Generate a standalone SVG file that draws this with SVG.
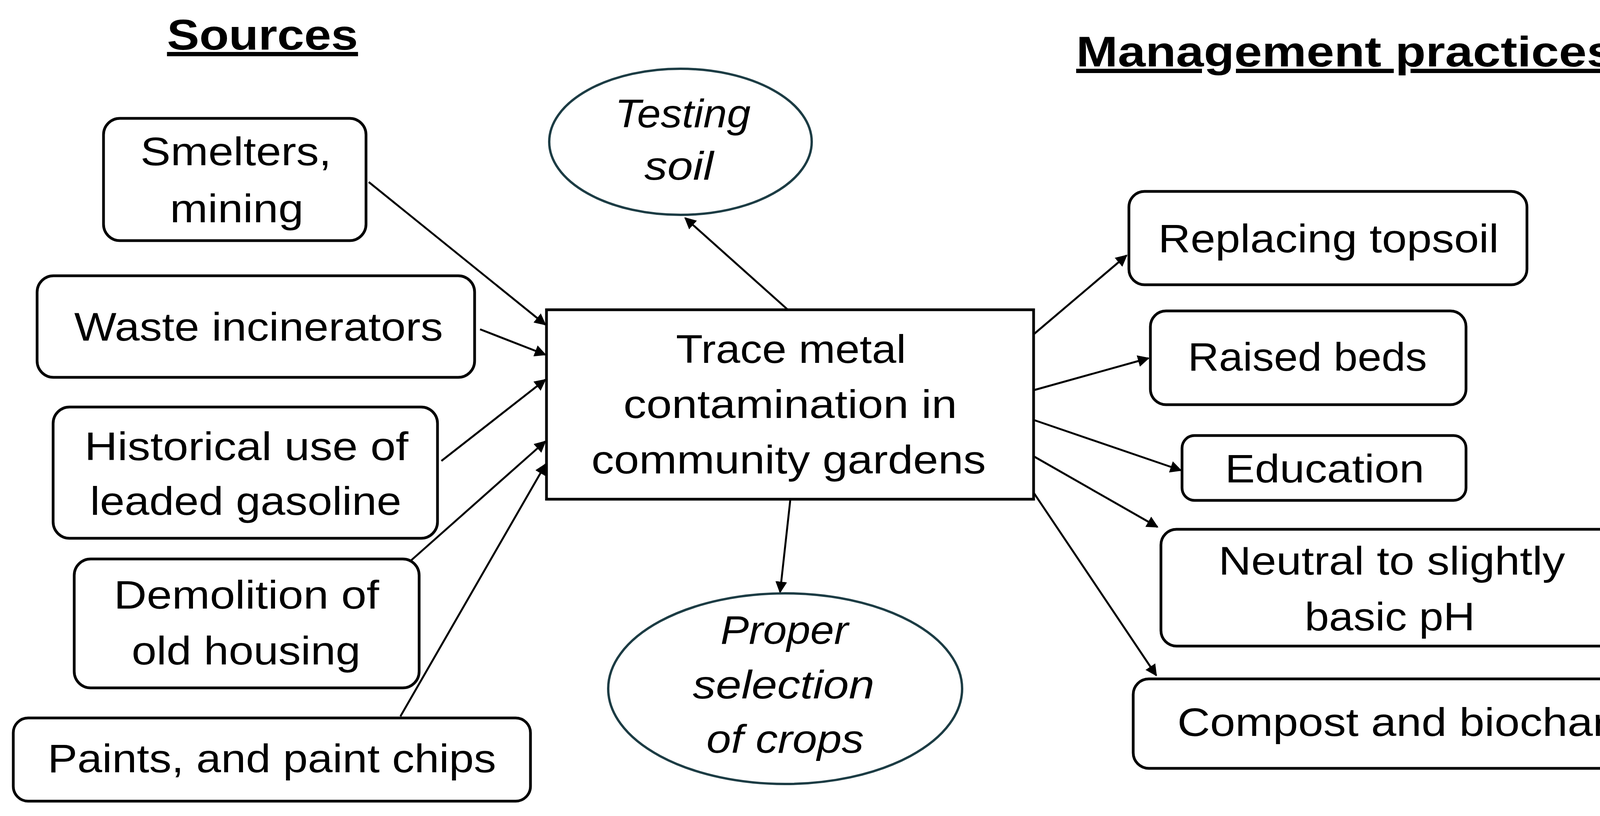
<svg xmlns="http://www.w3.org/2000/svg" width="4263" height="2089" viewBox="0 0 4263 2089">
<style>
.b{fill:#fff;stroke:#000;stroke-width:7}
.e{fill:#fff;stroke:#1c3c44;stroke-width:6}
text{font-family:"Liberation Sans",Arial,sans-serif;font-size:102px;text-anchor:middle;fill:#000}
.i{font-style:italic}
.h{font-weight:bold;font-size:110px;text-decoration:underline}
.c line{stroke:#000;stroke-width:5;marker-end:url(#a)}
</style>
<defs><marker id="a" viewBox="0 0 10 10" refX="9" refY="5" markerWidth="6" markerHeight="6" orient="auto" markerUnits="strokeWidth"><path d="M0,0L10,5L0,10z" fill="#000"/></marker></defs>
<rect width="4263" height="2089" fill="#fff"/>
<text class="h" x="672" y="127" textLength="489" lengthAdjust="spacingAndGlyphs">Sources</text>
<text class="h" x="3444" y="170" textLength="1378" lengthAdjust="spacingAndGlyphs">Management practices</text>
<g class="c">
<line x1="944" y1="466" x2="1396" y2="831"/>
<line x1="1229" y1="843" x2="1396" y2="908"/>
<line x1="1130" y1="1180" x2="1396" y2="972"/>
<line x1="1052" y1="1435" x2="1396" y2="1130"/>
<line x1="1025" y1="1834" x2="1397" y2="1188"/>
<line x1="2017" y1="793" x2="1754" y2="558"/>
<line x1="2023" y1="1281" x2="1997" y2="1516"/>
<line x1="2646" y1="856" x2="2884" y2="654"/>
<line x1="2646" y1="999" x2="2940" y2="917"/>
<line x1="2646" y1="1075" x2="3023" y2="1204"/>
<line x1="2646" y1="1168" x2="2963" y2="1349"/>
<line x1="2646" y1="1261" x2="2960" y2="1729"/>
</g>
<g id="smelters"><rect class="b" x="265" y="303" width="672" height="313" rx="42"/><text x="604" y="423" textLength="489" lengthAdjust="spacingAndGlyphs">Smelters,</text><text x="606" y="569" textLength="342" lengthAdjust="spacingAndGlyphs">mining</text></g>
<g id="waste"><rect class="b" x="95" y="706" width="1120" height="260" rx="42"/><text x="662" y="872" textLength="944" lengthAdjust="spacingAndGlyphs">Waste incinerators</text></g>
<g id="historical"><rect class="b" x="136" y="1042" width="984" height="336" rx="42"/><text x="631" y="1178" textLength="829" lengthAdjust="spacingAndGlyphs">Historical use of</text><text x="629" y="1318" textLength="797" lengthAdjust="spacingAndGlyphs">leaded gasoline</text></g>
<g id="demolition"><rect class="b" x="190" y="1431" width="883" height="330" rx="42"/><text x="631" y="1558" textLength="679" lengthAdjust="spacingAndGlyphs">Demolition of</text><text x="630" y="1701" textLength="586" lengthAdjust="spacingAndGlyphs">old housing</text></g>
<g id="paints"><rect class="b" x="34" y="1838" width="1324" height="213" rx="38"/><text x="696" y="1977" textLength="1148" lengthAdjust="spacingAndGlyphs">Paints, and paint chips</text></g>
<g id="center"><rect class="b" x="1399" y="793" width="1247" height="485"/><text x="2025" y="929" textLength="589" lengthAdjust="spacingAndGlyphs">Trace metal</text><text x="2023" y="1070" textLength="854" lengthAdjust="spacingAndGlyphs">contamination in</text><text x="2019" y="1212" textLength="1010" lengthAdjust="spacingAndGlyphs">community gardens</text></g>
<g id="testing"><ellipse class="e" cx="1742" cy="363" rx="336" ry="187"/><text class="i" x="1748" y="326" textLength="347" lengthAdjust="spacingAndGlyphs">Testing</text><text class="i" x="1738" y="460" textLength="177" lengthAdjust="spacingAndGlyphs">soil</text></g>
<g id="proper"><ellipse class="e" cx="2010" cy="1763" rx="453" ry="244"/><text class="i" x="2008" y="1648" textLength="327" lengthAdjust="spacingAndGlyphs">Proper</text><text class="i" x="2006" y="1788" textLength="465" lengthAdjust="spacingAndGlyphs">selection</text><text class="i" x="2010" y="1927" textLength="403" lengthAdjust="spacingAndGlyphs">of crops</text></g>
<g id="replacing"><rect class="b" x="2890" y="490" width="1019" height="239" rx="40"/><text x="3401" y="646" textLength="872" lengthAdjust="spacingAndGlyphs">Replacing topsoil</text></g>
<g id="raised"><rect class="b" x="2945" y="796" width="808" height="240" rx="40"/><text x="3347" y="949" textLength="612" lengthAdjust="spacingAndGlyphs">Raised beds</text></g>
<g id="education"><rect class="b" x="3026" y="1115" width="727" height="166" rx="32"/><text x="3391" y="1235" textLength="510" lengthAdjust="spacingAndGlyphs">Education</text></g>
<g id="neutral"><rect class="b" x="2972" y="1355" width="1177" height="299" rx="40"/><text x="3563" y="1471" textLength="887" lengthAdjust="spacingAndGlyphs">Neutral to slightly</text><text x="3558" y="1614" textLength="436" lengthAdjust="spacingAndGlyphs">basic pH</text></g>
<g id="compost"><rect class="b" x="2901" y="1738" width="1320" height="229" rx="40"/><text x="3565" y="1884" textLength="1102" lengthAdjust="spacingAndGlyphs">Compost and biochar</text></g>
</svg>
